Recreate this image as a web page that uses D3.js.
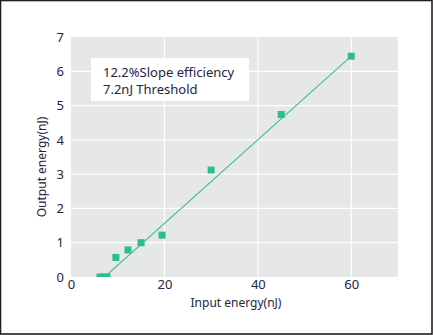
<!DOCTYPE html>
<html>
<head>
<meta charset="utf-8">
<script src="https://cdn.jsdelivr.net/npm/d3@7"></script>
<style>
  html, body { margin: 0; padding: 0; background: #fff; }
  svg { display: block; }
  text { font-family: "Noto Sans", "Liberation Sans", sans-serif; fill: #26233f; }
</style>
</head>
<body>
<svg id="chart" width="433" height="335"></svg>
<script>
// Measured pulse energies
const inputEnergy  = [6.2, 7.0, 7.7, 9.6, 12.2, 15.0, 19.5, 30.0, 45.0, 60.0];
const outputEnergy = [0, 0, 0, 0.57, 0.79, 1.0, 1.22, 3.12, 4.74, 6.44];

// Linear fit parameters
const slopeEfficiency = 0.122;  // 12.2 %
const thresholdEnergy = 7.2;    // nJ
const fitEnd = 60;

const xTicks = [0, 20, 40, 60];
const yTicks = [0, 1, 2, 3, 4, 5, 6, 7];
const noteLines = ["12.2%Slope efficiency", "7.2nJ Threshold"];

const W = 433, H = 335;
const m = { left: 71, right: 35, top: 37, bottom: 58 };
const svg = d3.select("#chart");

// Frame
svg.append("rect").attr("x", 0.5).attr("y", 0.5).attr("width", W - 1.5).attr("height", H - 1.5)
  .attr("fill", "#fff").attr("stroke", "#231f20").attr("stroke-width", 1.6);

const x = d3.scaleLinear().domain([0, 70]).range([m.left, W - m.right]);
const y = d3.scaleLinear().domain([0, 7]).range([H - m.bottom, m.top]);

// Plot background
svg.append("rect").attr("x", x(0)).attr("y", y(7))
  .attr("width", x(70) - x(0)).attr("height", y(0) - y(7)).attr("fill", "#e6e7e9");

svg.append("defs").append("clipPath").attr("id", "plot")
  .append("rect").attr("x", x(0)).attr("y", y(7))
  .attr("width", x(70) - x(0)).attr("height", y(0) - y(7));

// Grid lines
const grid = svg.append("g").attr("stroke", "#fff").attr("stroke-width", 1.2);
grid.selectAll("line.v").data(xTicks.filter(d => d > 0)).join("line")
  .attr("x1", d => x(d)).attr("x2", d => x(d)).attr("y1", y(0)).attr("y2", y(7));
grid.selectAll("line.h").data(yTicks.filter(d => d > 0 && d < 7)).join("line")
  .attr("x1", x(0)).attr("x2", x(70)).attr("y1", d => y(d)).attr("y2", d => y(d));

// Annotation box
const note = svg.append("g");
note.append("rect").attr("x", 91).attr("y", 58).attr("width", 158).attr("height", 43).attr("fill", "#fff");
note.selectAll("text").data(noteLines).join("text")
  .attr("x", 103).attr("y", (d, i) => 77 + i * 17)
  .attr("font-size", 13).text(d => d);

// Fit line and data points
const plot = svg.append("g").attr("clip-path", "url(#plot)");
plot.append("line")
  .attr("x1", x(thresholdEnergy)).attr("y1", y(0))
  .attr("x2", x(fitEnd)).attr("y2", y(slopeEfficiency * (fitEnd - thresholdEnergy)))
  .attr("stroke", "#3dbf94").attr("stroke-width", 1.1);

const s = 7;
plot.selectAll("rect.pt").data(inputEnergy.map((v, i) => [v, outputEnergy[i]])).join("rect")
  .attr("x", d => x(d[0]) - s / 2).attr("y", d => y(d[1]) - s / 2)
  .attr("width", s).attr("height", s).attr("fill", "#2dbd8f");

// Axes
const xAxis = d3.axisBottom(x).tickValues(xTicks).tickSize(0).tickPadding(3);
const yAxis = d3.axisLeft(y).tickValues(yTicks).tickSize(0).tickPadding(7).tickFormat(d3.format("d"));

const gx = svg.append("g").attr("transform", `translate(0,${y(0)})`).call(xAxis);
const gy = svg.append("g").attr("transform", `translate(${x(0)},0)`).call(yAxis);
[gx, gy].forEach(g => {
  g.select(".domain").remove();
  g.selectAll("text").attr("font-size", 13).attr("font-family", null).attr("fill", null);
});

// Axis titles
svg.append("text").attr("x", 236).attr("y", 307).attr("text-anchor", "middle")
  .attr("font-size", 12).text("Input energy(nJ)");
svg.append("text").attr("transform", "translate(46,167) rotate(-90)").attr("text-anchor", "middle")
  .attr("font-size", 12).text("Output energy(nJ)");
</script>
</body>
</html>
